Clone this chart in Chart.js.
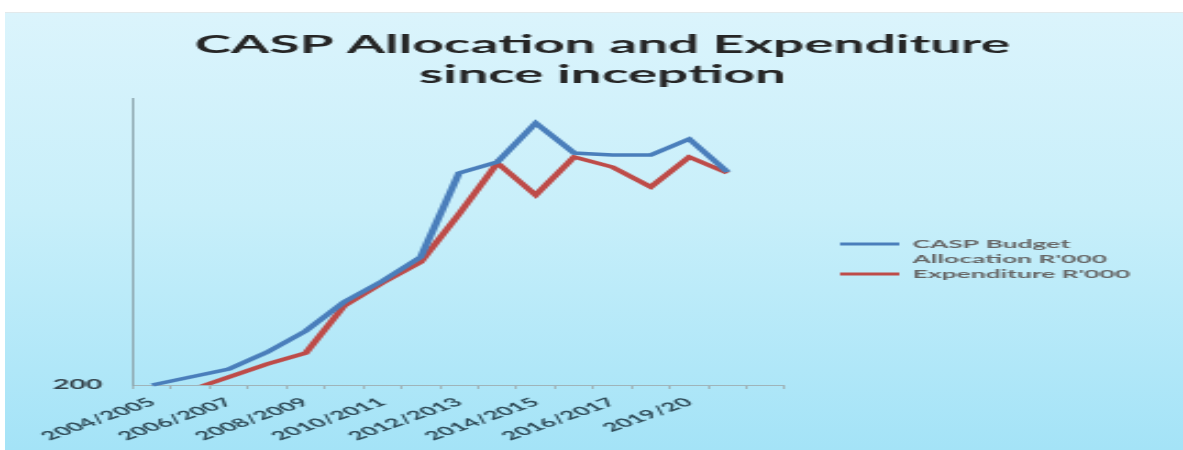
<!DOCTYPE html>
<html>
<head>
<meta charset="utf-8">
<title>CASP Allocation and Expenditure</title>
<script src="https://cdn.jsdelivr.net/npm/chart.js@4.4.1/dist/chart.umd.min.js"></script>
<style>
  html, body { margin: 0; padding: 0; background: #fff; }
  body { width: 1183px; height: 450px; position: relative; overflow: hidden; }
  /* blue panel behind the chart, slightly inset like the slide */
  #panel {
    position: absolute; left: 5px; top: 12px; right: 0; bottom: 0;
    background: linear-gradient(to bottom, #dbf4fc 0%, #c8effa 45%, #a4e3f7 100%);
    border-top: 1px solid #e2e9eb;
  }
  #chart { position: absolute; left: 0; top: 0; }
</style>
</head>
<body>
<div id="panel"></div>
<!-- drawn narrow and stretched wide, like the original picture -->
<canvas id="chart" width="538" height="450" style="width:1183px;height:450px"></canvas>
<script>
// categories (only every other one is labelled in the source)
const categories = [
  '2004/2005', '', '2006/2007', '', '2008/2009', '', '2010/2011', '',
  '2012/2013', '', '2014/2015', '', '2016/2017', '', '2019/20', '', ''
];

// CASP Budget Allocation R'000
const allocation = [200, 240, 280, 365, 470, 615, 720, 840, 1260, 1315, 1510, 1360, 1350, 1350, 1430, 1265, null];

// Expenditure R'000
const expenditure = [null, 175, 240, 305, 360, 595, 710, 815, 1055, 1310, 1150, 1340, 1290, 1190, 1340, 1260, null];

const yTicks = [200];
const yMin = 200;
const yMax = 1635;

const legendText = [['CASP Budget', "Allocation R'000"], ["Expenditure R'000"]];

const ctx = document.getElementById('chart').getContext('2d');
const chart = new Chart(ctx, {
  type: 'line',
  data: {
    labels: categories,
    datasets: [
      {
        label: "CASP Budget Allocation R'000",
        data: allocation,
        borderColor: '#4a7ebb',
        borderWidth: 3.5,
        pointRadius: 0,
        tension: 0,
        clip: false
      },
      {
        label: "Expenditure R'000",
        data: expenditure,
        borderColor: '#be4b48',
        borderWidth: 3.5,
        pointRadius: 0,
        tension: 0
      }
    ]
  },
  options: {
    responsive: false,
    animation: false,
    devicePixelRatio: 1,
    layout: { padding: { left: 24, right: 14, top: 0, bottom: 0 } },
    plugins: {
      tooltip: { enabled: false },
      title: {
        display: true,
        text: ['CASP Allocation and Expenditure', 'since inception'],
        color: '#262626',
        font: { family: 'Lato', size: 25, weight: 'bold', lineHeight: 1.2 },
        padding: { top: 30, bottom: 8 }
      },
      legend: {
        position: 'right',
        align: 'center',
        fullSize: false,
        maxWidth: 200,
        title: { display: true, text: '', padding: { top: 37, bottom: 0 }, font: { size: 1, lineHeight: 1 } },
        labels: {
          boxWidth: 27,
          boxHeight: 3,
          padding: 0,
          color: '#3a3a3a',
          font: { family: 'Lato', size: 12, weight: 'bold', lineHeight: 15 / 12 },
          generateLabels: c => c.data.datasets.map((ds, i) => ({
            text: legendText[i],
            fillStyle: ds.borderColor,
            strokeStyle: ds.borderColor,
            lineWidth: 0,
            hidden: false,
            datasetIndex: i
          }))
        }
      }
    },
    scales: {
      x: {
        offset: true,
        grid: { display: true, offset: true, drawOnChartArea: false, tickLength: 4, color: '#9fb4ba' },
        border: { display: true, color: '#9fb4ba', width: 1 },
        ticks: {
          autoSkip: false,
          minRotation: 37,
          maxRotation: 37,
          padding: 6,
          color: '#2f4b58',
          font: { family: 'Lato', size: 12, weight: 'bold' }
        },
        afterFit: s => { s.height = 65; }
      },
      y: {
        min: yMin,
        max: yMax,
        grid: { display: false, drawTicks: false },
        border: { display: true, color: '#8ea7af', width: 1 },
        ticks: {
          padding: 14,
          color: '#34424a',
          font: { family: 'Lato', size: 13, weight: 'bold' }
        },
        afterBuildTicks: s => { s.ticks = yTicks.map(v => ({ value: v })); },
        afterFit: s => { s.width = 36.5; }
      },
      // empty spacer between the plot and the legend
      gap: {
        type: 'linear',
        position: 'right',
        grid: { display: false, drawTicks: false },
        border: { display: false },
        ticks: { display: false },
        afterFit: s => { s.width = 25; }
      }
    }
  }
});
</script>
</body>
</html>
